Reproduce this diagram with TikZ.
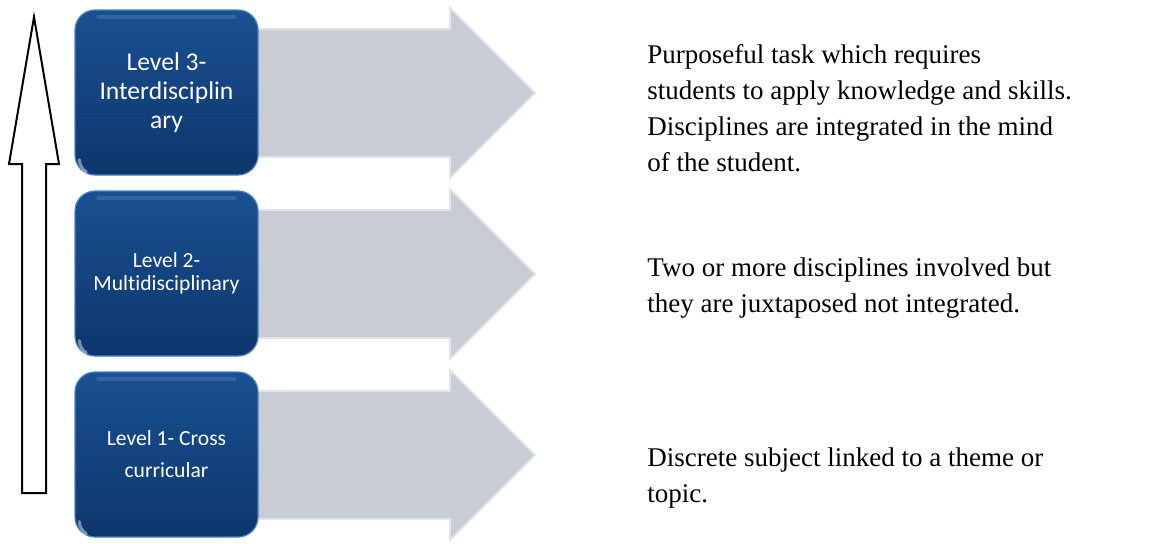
\documentclass[tikz,border=0pt]{standalone}
\usepackage{fontspec}
\setmainfont{Liberation Serif}
\newfontfamily\boxfont[Ligatures={NoCommon,NoContextual}]{Carlito}
\usetikzlibrary{positioning}

\definecolor{boxtop}{RGB}{26,80,146}
\definecolor{boxbot}{RGB}{13,54,108}
\definecolor{boxedge}{RGB}{70,130,200}
\definecolor{arrowgrey}{RGB}{200,204,212}
\definecolor{arrowedge}{RGB}{224,228,234}

\tikzset{
  levelbox/.style={rounded corners=10pt, minimum width=91.5pt, minimum height=82.5pt,
    top color=boxtop, bottom color=boxbot, draw=boxedge, line width=0.6pt,
    text=white, align=center, inner sep=2pt},
  greyarrow/.style={fill=arrowgrey, draw=arrowedge, line width=1pt},
  desc/.style={anchor=north west, align=left, inner sep=0pt,
    font=\fontsize{13.5}{18}\selectfont},
}

\begin{document}
\begin{tikzpicture}[x=0.5pt,y=-0.5pt]
  \useasboundingbox (0,0) rectangle (1170,543);
  % grey arrows, partly hidden by the boxes
  \foreach \c in {93,274,455}{
    \draw[greyarrow] (240,\c-64) -- (450,\c-64) -- (450,\c-85) -- (535,\c)
      -- (450,\c+85) -- (450,\c+64) -- (240,\c+64) -- cycle;
  }
  % level boxes
  \node[levelbox, font=\boxfont\fontsize{12.8}{14.5}\selectfont] (lvl3) at (166.5,92.5)
    {Level 3-\\Interdisciplin\\ary};
  \node[levelbox, font=\boxfont\fontsize{10.8}{11.5}\selectfont] (lvl2) at (166.5,273.5)
    {Level 2-\\Multidisciplinary};
  \node[levelbox, font=\boxfont\fontsize{10.8}{16}\selectfont] (lvl1) at (166.5,454.5)
    {Level 1- Cross\\curricular};
  % gloss on the boxes
  \foreach \b in {lvl3,lvl2,lvl1}{
    \draw[white, opacity=0.12, line width=2pt, line cap=round]
      ([xshift=12pt,yshift=-4pt]\b.north west) -- ([xshift=-12pt,yshift=-4pt]\b.north east);
    \draw[white, opacity=0.45, line width=1.5pt, line cap=round]
      ([xshift=2.5pt,yshift=8pt]\b.south west) arc[start angle=180, end angle=240, radius=7pt];
  }
  % upward arrow
  \draw[line width=1pt, fill=white] (22,493) -- (22,164) -- (9,164) -- (34,17)
    -- (59,164) -- (46,164) -- (46,493) -- cycle;
  % descriptions
  \node[desc] (desc3) at (647,44) {Purposeful task which requires\\students to apply knowledge and skills.\\Disciplines are integrated in the mind\\of the student.};
  \node[desc] (desc2) at (647,257) {Two or more disciplines involved but\\they are juxtaposed not integrated.};
  \node[desc] (desc1) at (647,447) {Discrete subject linked to a theme or\\topic.};
\end{tikzpicture}
\end{document}
